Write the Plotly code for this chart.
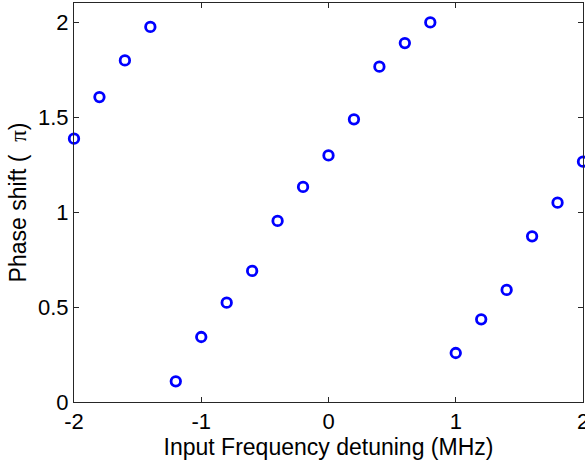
import plotly.graph_objects as go

# Data
detuning_mhz = [-2.0, -1.8, -1.6, -1.4, -1.2, -1.0, -0.8, -0.6, -0.4, -0.2,
                0.0, 0.2, 0.4, 0.6, 0.8, 1.0, 1.2, 1.4, 1.6, 1.8, 2.0]
phase_shift_pi = [1.386, 1.605, 1.798, 1.974, 0.109, 0.342, 0.523, 0.690, 0.953, 1.132,
                  1.298, 1.488, 1.765, 1.889, 1.998, 0.258, 0.435, 0.590, 0.872, 1.049, 1.265]

x_ticks = [-2, -1, 0, 1, 2]
y_ticks = [0, 0.5, 1, 1.5, 2]

FONT = "Liberation Sans, Arial, sans-serif"
AX = "#262626"

fig = go.Figure()
fig.add_trace(go.Scatter(
    x=detuning_mhz, y=phase_shift_pi, mode="markers",
    marker=dict(symbol="circle-open", size=9.5, color="#0000FF",
                line=dict(width=2.8, color="#0000FF")),
    cliponaxis=False, showlegend=False,
))

fig.update_layout(
    width=585, height=462,
    margin=dict(l=74, r=2, t=3, b=60),
    paper_bgcolor="white", plot_bgcolor="white",
    font=dict(family=FONT, size=22, color="black"),
    xaxis=dict(
        range=[-2, 2], tickvals=x_ticks, ticktext=[str(v) for v in x_ticks],
        showgrid=False, zeroline=False, showline=True, linecolor=AX, linewidth=1,
        mirror="allticks", ticks="inside", ticklen=5, tickcolor=AX,
        tickfont=dict(size=22), ticklabeloverflow="allow", automargin=False,
        title=dict(text="Input Frequency detuning (MHz)", font=dict(size=23), standoff=2),
    ),
    yaxis=dict(
        range=[0, 2.1], tickvals=y_ticks, ticktext=["0", "0.5", "1", "1.5", "2"],
        showgrid=False, zeroline=False, showline=True, linecolor=AX, linewidth=1,
        mirror="allticks", ticks="inside", ticklen=5, tickcolor=AX,
        tickfont=dict(size=22), ticklabeloverflow="allow", automargin=False,
        title=dict(text="Phase shift (  <span style='font-family:Liberation Serif, serif'>π</span>)",
                   font=dict(size=23), standoff=4),
    ),
)

fig.write_html("out.html")
